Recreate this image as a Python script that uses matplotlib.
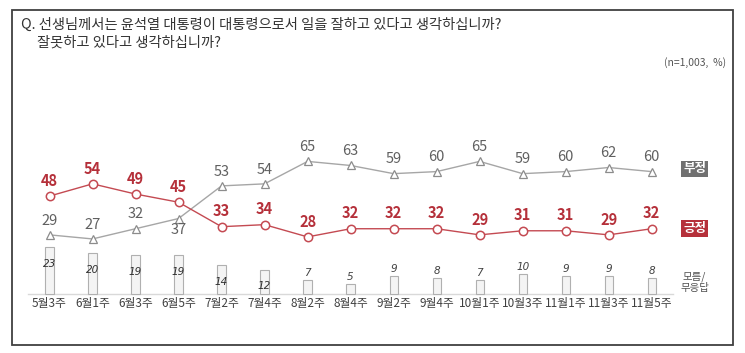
import matplotlib
matplotlib.use('Agg')
import matplotlib.pyplot as plt
from matplotlib.patches import Rectangle

plt.rcParams['font.family'] = ['Noto Sans CJK KR', 'DejaVu Sans']

weeks = ['5월3주', '6월1주', '6월3주', '6월5주', '7월2주', '7월4주', '8월2주', '8월4주',
         '9월2주', '9월4주', '10월1주', '10월3주', '11월1주', '11월3주', '11월5주']
positive = [48, 54, 49, 45, 33, 34, 28, 32, 32, 32, 29, 31, 31, 29, 32]
negative = [29, 27, 32, 37, 53, 54, 65, 63, 59, 60, 65, 59, 60, 62, 60]
unknown = [23, 20, 19, 19, 14, 12, 7, 5, 9, 8, 7, 10, 9, 9, 8]

RED = '#b5303a'
RED_LINE = '#c44a52'
GRAY = '#606060'
GRAY_LINE = '#a6a6a6'

fig = plt.figure(figsize=(7.45, 3.53), dpi=100)
ax = fig.add_axes([0, 0, 1, 1])
ax.set_xlim(-1.151, 16.17)
ax.set_ylim(-28.9, 144.1)
ax.axis('off')

x = list(range(len(weeks)))

# 모름/무응답 막대
ax.bar(x, unknown, width=0.19, color='#f4f4f4', edgecolor='#b0b0b0', linewidth=0.8, zorder=2)
for i, v in enumerate(unknown):
    if v >= 12:
        ax.text(i, v - 8.3, str(v), ha='center', va='center', fontsize=7.5, style='italic',
                color='#303030', family=['DejaVu Sans'], zorder=3)
    else:
        ax.text(i, v + 3.2, str(v), ha='center', va='center', fontsize=7.5, style='italic',
                color='#404040', family=['DejaVu Sans'], zorder=3)

ax.plot([-0.5, 14.5], [0, 0], color='#d9d9d9', linewidth=1, zorder=1)

# 부정
ax.plot(x, negative, color=GRAY_LINE, linewidth=1, marker='^', markersize=5.5,
        markerfacecolor='white', markeredgecolor='#8c8c8c', markeredgewidth=0.9, zorder=4)
for i, v in enumerate(negative):
    if i == 3:
        ax.text(i, v - 5.5, str(v), ha='center', va='center', fontsize=10.5, color=GRAY, zorder=5)
    else:
        ax.text(i, v + 7, str(v), ha='center', va='center', fontsize=10.5, color=GRAY, zorder=5)

# 긍정
ax.plot(x, positive, color=RED_LINE, linewidth=1, marker='o', markersize=6,
        markerfacecolor='white', markeredgecolor=RED_LINE, markeredgewidth=1.1, zorder=4)
for i, v in enumerate(positive):
    ax.text(i, v + 7.5, str(v), ha='center', va='center', fontsize=10.5, color=RED,
            fontweight='bold', zorder=5)

# 범례
ax.text(15, negative[-1] + 1.3, '부정', ha='center', va='center', fontsize=9, color='white',
        fontweight='bold', bbox=dict(boxstyle='square,pad=0.15', facecolor='#707070', edgecolor='none'))
ax.text(15, positive[-1], '긍정', ha='center', va='center', fontsize=9, color='white',
        fontweight='bold', bbox=dict(boxstyle='square,pad=0.15', facecolor=RED, edgecolor='none'))
ax.text(15, 5.9, '모름/\n무응답', ha='center', va='center', fontsize=7.5, color='#505050',
        linespacing=1.1)

# x축 라벨
for i, w in enumerate(weeks):
    ax.text(i, -4.4, w, ha='center', va='center', fontsize=8.5, color='#404040')

# 제목
fig.text(21 / 745, 1 - 25 / 353, 'Q. 선생님께서는 윤석열 대통령이 대통령으로서 일을 잘하고 있다고 생각하십니까?',
         ha='left', va='center', fontsize=10.3, color='#333333')
fig.text(37 / 745, 1 - 43 / 353, '잘못하고 있다고 생각하십니까?',
         ha='left', va='center', fontsize=10.3, color='#333333')
fig.text(726 / 745, 1 - 63 / 353, '(n=1,003,  %)', ha='right', va='center', fontsize=7.5,
         color='#555555')

# 테두리
fig.patches.append(Rectangle((12 / 745, 8 / 353), (733 - 12) / 745, (345 - 10) / 353,
                             transform=fig.transFigure, fill=False, edgecolor='#404040',
                             linewidth=1.3))

fig.savefig('out.png', dpi=100)
